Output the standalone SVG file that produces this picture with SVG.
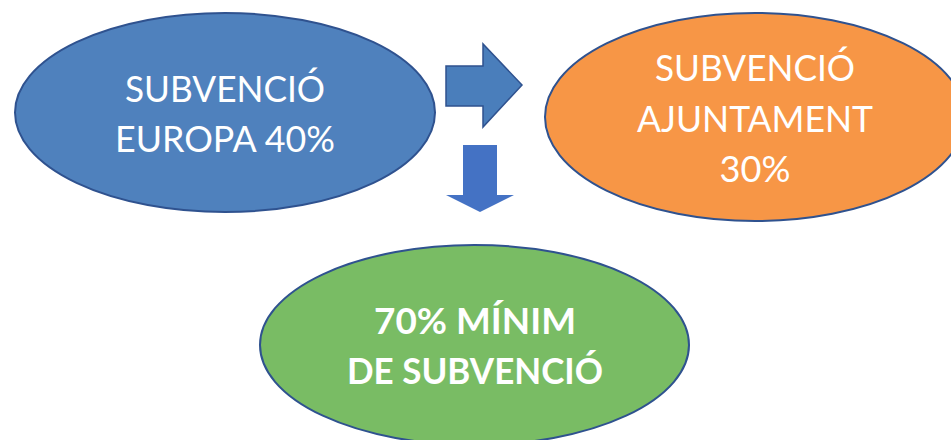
<svg xmlns="http://www.w3.org/2000/svg" width="951" height="440" viewBox="0 0 951 440">
  <style>
    .node { stroke: #2f528f; stroke-width: 2; }
    .lbl { font-family: Lato, "Open Sans", "Liberation Sans", sans-serif; font-size: 36px; fill: #ffffff; text-anchor: middle; }
    .bold { font-weight: bold; }
    .arrowR { fill: #4a7ebb; stroke: #2f528f; stroke-width: 1.5; }
    .arrowD { fill: #4472c4; }
  </style>
  <rect width="951" height="440" fill="#ffffff"/>
  <g id="connectors">
    <polygon class="arrowR" points="446,66 483,66 483,44 522,85 483,127 483,106 446,106"/>
    <polygon class="arrowD" points="463,145 497,145 497,195 514,195 480,212 446,195 463,195"/>
  </g>
  <g id="europa">
    <ellipse class="node" cx="225" cy="112.5" rx="210" ry="99.5" fill="#4f81bd"/>
    <text class="lbl" x="225" y="102" textLength="200" lengthAdjust="spacingAndGlyphs">SUBVENCIÓ</text>
    <text class="lbl" x="225" y="152" textLength="220" lengthAdjust="spacingAndGlyphs">EUROPA 40%</text>
  </g>
  <g id="ajuntament">
    <ellipse class="node" cx="755" cy="117" rx="210" ry="104" fill="#f79646"/>
    <text class="lbl" x="755" y="81" textLength="200" lengthAdjust="spacingAndGlyphs">SUBVENCIÓ</text>
    <text class="lbl" x="755" y="132" textLength="236" lengthAdjust="spacingAndGlyphs">AJUNTAMENT</text>
    <text class="lbl" x="755" y="182" textLength="71" lengthAdjust="spacingAndGlyphs">30%</text>
  </g>
  <g id="minim">
    <ellipse class="node" cx="474.5" cy="345" rx="214.5" ry="100" fill="#79bc64"/>
    <text class="lbl bold" x="475" y="334" textLength="202" lengthAdjust="spacingAndGlyphs">70% MÍNIM</text>
    <text class="lbl bold" x="475" y="384" textLength="256" lengthAdjust="spacingAndGlyphs">DE SUBVENCIÓ</text>
  </g>
</svg>
